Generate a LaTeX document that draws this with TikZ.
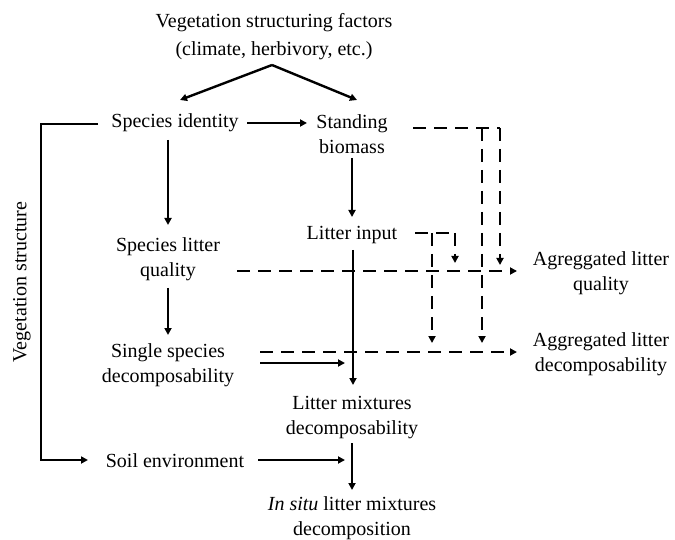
\documentclass[tikz,border=0pt]{standalone}
\usepackage{fontspec}
\setmainfont{Liberation Serif}
\usetikzlibrary{arrows.meta}
\begin{document}
\begin{tikzpicture}[x=1pt,y=-1pt,
  lbl/.style={align=center,inner sep=0pt,font=\fontsize{20}{25}\selectfont},
  arr/.style={line width=2.4pt,-{Triangle[length=7pt,width=7pt]}},
  ln/.style={line width=2.4pt},
  darr/.style={line width=2.6pt,dash pattern=on 13pt off 8pt,-{Triangle[length=7pt,width=7pt]}},
  dln/.style={line width=2.6pt,dash pattern=on 13pt off 8pt}]
\useasboundingbox (0,0) rectangle (675,540);
% nodes
\node[lbl,font=\fontsize{20}{28}\selectfont] (title) at (274,37) {Vegetation structuring factors\\(climate, herbivory, etc.)};
\node[lbl] (sid) at (175,123) {Species identity};
\node[lbl] (sb) at (352,134) {Standing\\biomass};
\node[lbl] (slq) at (168,259) {Species litter\\quality};
\node[lbl] (li) at (352,235) {Litter input};
\node[lbl] (ssd) at (168,365) {Single species\\decomposability};
\node[lbl] (agq) at (601,273) {Agreggated litter\\quality};
\node[lbl] (agd) at (601,354) {Aggregated litter\\decomposability};
\node[lbl] (lmd) at (352,418) {Litter mixtures\\decomposability};
\node[lbl] (se) at (175,461) {Soil environment};
\node[lbl] (isd) at (352,518) {\textit{In situ} litter mixtures\\decomposition};
\node[lbl,rotate=90] (vs) at (22,282) {Vegetation structure};
% connector end points
\coordinate (apex) at (272,65);
\coordinate (tipL) at (180,100);
\coordinate (tipR) at (357,100);
\coordinate (sidE) at (247,123);
\coordinate (sbW) at (307,123);
\coordinate (sidS) at (168,140);
\coordinate (slqN) at (168,225);
\coordinate (slqS) at (168,288);
\coordinate (ssdN) at (168,335);
\coordinate (sbS) at (352,158);
\coordinate (liN) at (352,217);
\coordinate (liS) at (353,250);
\coordinate (lmdN) at (353,385);
\coordinate (lmdS) at (352,443);
\coordinate (isdN) at (352,490);
\coordinate (ssdE) at (260,363);
\coordinate (lmdW) at (345,363);
\coordinate (seE) at (258,460);
\coordinate (isdW) at (345,460);
\coordinate (brT) at (98,124);
\coordinate (seW) at (88,460);
\coordinate (slqE) at (237,271);
\coordinate (agqW) at (517,271);
\coordinate (ssdE2) at (260,352);
\coordinate (agdW) at (517,352);
\coordinate (sbE) at (413,128);
\coordinate (sbJ) at (500,128);
\coordinate (sbB) at (482,128);
\coordinate (liE) at (415,233);
\coordinate (liJ) at (455,233);
\coordinate (liB) at (432,233);
% solid connectors
\draw[arr] (apex) -- (tipL);
\draw[arr] (apex) -- (tipR);
\draw[arr] (sidE) -- (sbW);
\draw[arr] (sidS) -- (slqN);
\draw[arr] (slqS) -- (ssdN);
\draw[arr] (sbS) -- (liN);
\draw[arr] (liS) -- (lmdN);
\draw[arr] (ssdE) -- (lmdW);
\draw[arr] (seE) -- (isdW);
\draw[arr] (lmdS) -- (isdN);
\draw[arr] (brT) -- (41,124) -- (41,460) -- (seW);
% dashed connectors
\draw[darr] (slqE) -- (agqW);
\draw[darr] (ssdE2) -- (agdW);
\draw[dln] (sbE) -- (sbJ);
\draw[darr] (sbJ) -- (500,265);
\draw[darr] (sbB) -- (482,343);
\draw[dln] (liE) -- (liJ);
\draw[darr] (liJ) -- (455,263);
\draw[darr] (liB) -- (432,343);
\end{tikzpicture}
\end{document}
